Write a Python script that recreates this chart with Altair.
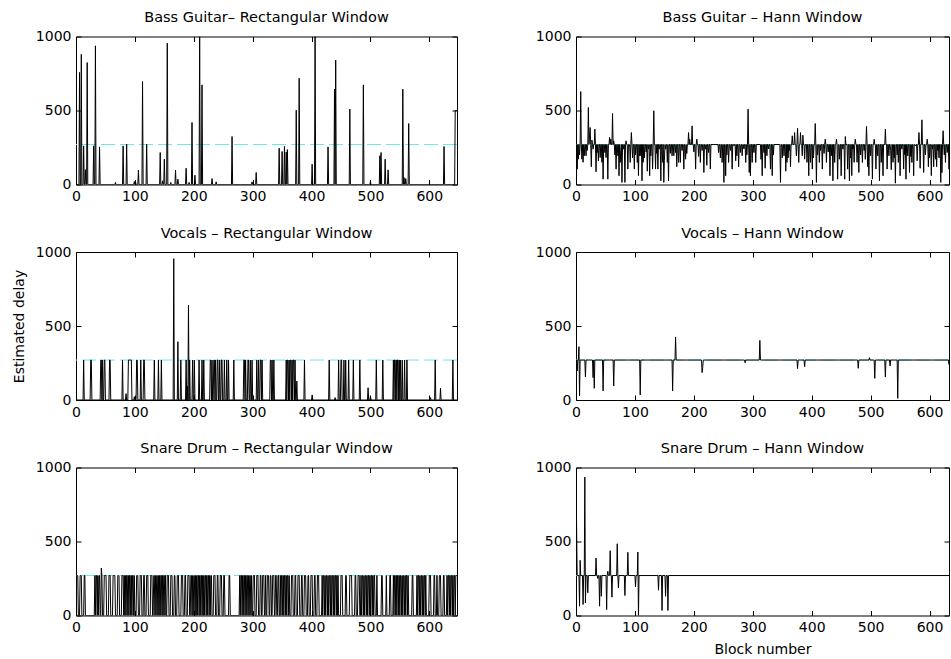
import altair as alt
import pandas as pd

# ---------------------------------------------------------------- data
N_BLOCKS = 647          # last block index of every recording
RIGHT_SHOWN = 633       # blocks shown in the right-hand column
BASE_DELAY = 270        # true delay (dashed reference)
X_TICKS = [0, 100, 200, 300, 400, 500, 600]
Y_TICKS = [0, 500, 1000]

TITLES = [
    "Bass Guitar\u2013 Rectangular Window",
    "Bass Guitar \u2013 Hann Window",
    "Vocals \u2013 Rectangular Window",
    "Vocals \u2013 Hann Window",
    "Snare Drum \u2013 Rectangular Window",
    "Snare Drum \u2013 Hann Window",
]

# bass guitar, rectangular window: estimates that leave the zero floor
BASS_RECT = [
    (6, 757), (9, 880), (13, 261), (16, 100), (19, 824), (30, 261), (33, 937),
    (40, 254), (67, 14), (80, 261), (86, 272), (99, 20), (101, 20), (106, 97),
    (113, 696), (120, 272), (143, 216), (147, 25), (150, 171), (155, 955),
    (161, 14), (169, 97), (173, 36), (187, 110), (192, 14), (197, 419),
    (202, 63), (210, 1000), (214, 673), (231, 40), (238, 18), (265, 324),
    (299, 18), (306, 81), (345, 245), (350, 223), (354, 257), (357, 220),
    (359, 236), (374, 502), (379, 718), (401, 137), (406, 1000), (428, 254),
    (439, 644), (441, 840), (465, 509), (488, 673), (500, 18), (516, 194),
    (518, 216), (525, 171), (530, 99), (555, 644), (557, 47), (560, 40),
    (565, 412), (625, 257), (644, 500), (645, 500), (646, 500), (647, 500),
]

# bass guitar, Hann window: departures from the true delay
BASS_HANN = [
    (0, 230), (2, 104), (4, 171), (6, 200), (8, 628), (10, 171), (12, 150),
    (14, 194), (17, 194), (19, 230), (21, 520), (23, 333), (24, 385),
    (26, 120), (27, 300), (29, 239), (32, 374), (34, 86), (36, 216),
    (38, 160), (41, 182), (44, 150), (46, 36), (49, 216), (51, 182), (54, 36),
    (57, 318), (59, 306), (62, 480), (64, 295), (66, 200), (68, 104),
    (71, 194), (73, 59), (75, 149), (76, 230), (78, 14), (81, 239), (83, 14),
    (85, 295), (88, 104), (90, 261), (92, 149), (94, 351), (96, 180),
    (99, 104), (101, 200), (104, 149), (106, 60), (108, 194), (110, 194),
    (112, 25), (114, 150), (116, 180), (119, 220), (121, 90), (123, 240),
    (125, 59), (127, 194), (130, 104), (132, 498), (135, 104), (137, 210),
    (139, 104), (142, 239), (144, 25), (147, 150), (149, 14), (150, 160),
    (152, 239), (155, 149), (157, 25), (160, 210), (163, 194), (166, 194),
    (169, 216), (171, 120), (174, 149), (177, 149), (180, 230), (183, 104),
    (186, 171), (188, 210), (191, 351), (193, 306), (197, 396), (200, 220),
    (203, 104), (205, 306), (208, 190), (211, 149), (214, 230), (217, 81),
    (220, 239), (222, 130), (225, 216), (228, 104), (242, 216), (245, 180),
    (248, 149), (251, 14), (254, 59), (256, 200), (259, 149), (262, 230),
    (265, 104), (268, 261), (271, 160), (273, 194), (276, 120), (279, 216),
    (282, 194), (285, 240), (288, 149), (290, 200), (292, 509), (294, 81),
    (296, 59), (299, 149), (302, 216), (305, 149), (314, 170), (316, 59),
    (319, 216), (321, 110), (324, 194), (327, 240), (330, 104), (333, 60),
    (335, 200), (347, 14), (350, 180), (353, 194), (356, 90), (358, 149),
    (360, 180), (362, 230), (364, 120), (367, 329), (371, 351), (374, 194),
    (376, 380), (378, 149), (381, 351), (384, 194), (385, 333), (388, 171),
    (392, 149), (395, 59), (398, 149), (401, 104), (403, 180), (406, 412),
    (408, 14), (410, 200), (413, 149), (415, 230), (418, 104), (421, 210),
    (423, 306), (425, 149), (428, 220), (431, 59), (434, 194), (436, 25),
    (439, 149), (442, 306), (444, 36), (447, 171), (450, 59), (453, 239),
    (456, 36), (457, 324), (461, 104), (464, 25), (466, 180), (468, 60),
    (470, 240), (472, 150), (474, 306), (477, 150), (480, 81), (483, 200),
    (486, 149), (489, 230), (491, 170), (493, 392), (495, 120), (497, 59),
    (500, 194), (503, 36), (506, 306), (509, 104), (512, 194), (515, 25),
    (518, 149), (521, 59), (525, 374), (528, 104), (531, 194), (534, 230),
    (535, 100), (538, 150), (540, 180), (542, 9), (545, 200), (547, 149),
    (550, 59), (553, 239), (556, 104), (558, 200), (560, 36), (563, 194),
    (566, 81), (568, 190), (570, 149), (573, 59), (576, 261), (579, 160),
    (582, 351), (584, 110), (587, 437), (590, 81), (593, 200), (596, 306),
    (598, 120), (600, 180), (603, 60), (605, 239), (607, 120), (610, 171),
    (612, 120), (614, 230), (616, 180), (619, 14), (621, 80), (623, 363),
    (625, 200), (627, 149), (630, 216), (633, 104), (636, 200),
]

# vocals, rectangular window: blocks estimated at the true delay, and outliers
VOC_RECT_ON = [
    (13, 13), (25, 26), (42, 43), (45, 45), (48, 49), (57, 58), (79, 79),
    (89, 94), (103, 104), (110, 110), (115, 116), (133, 133), (140, 140),
    (145, 145), (178, 178), (187, 187), (193, 193), (198, 198), (201, 201),
    (209, 209), (214, 214), (217, 217), (228, 229), (231, 231), (234, 235),
    (237, 237), (240, 241), (244, 244), (247, 248), (252, 252), (256, 256),
    (259, 259), (268, 268), (285, 286), (288, 288), (292, 293), (296, 296),
    (299, 299), (307, 307), (310, 310), (313, 314), (316, 316), (330, 331),
    (333, 333), (336, 336), (357, 357), (359, 360), (362, 362), (364, 365),
    (367, 367), (369, 370), (372, 372), (388, 388), (430, 430), (446, 446),
    (450, 451), (455, 455), (458, 458), (463, 463), (471, 471), (482, 482),
    (510, 510), (521, 521), (539, 539), (541, 542), (544, 544), (546, 547),
    (549, 549), (551, 551), (554, 554), (558, 558), (562, 562), (610, 610),
    (640, 640),
]
VOC_RECT_PEAKS = [
    (0, 128), (85, 43), (99, 22), (166, 955), (173, 394), (189, 95),
    (191, 640), (375, 128), (401, 34), (440, 16), (496, 83), (500, 27),
    (602, 16), (619, 79),
]

# vocals, Hann window
VOC_HANN = [
    (0, 241), (2, 196), (5, 360), (6, 27), (16, 155), (29, 151), (31, 79),
    (46, 61), (64, 95), (109, 34), (164, 61), (169, 426), (214, 185),
    (215, 218), (287, 252), (312, 403), (376, 212), (388, 225), (479, 214),
    (498, 286), (507, 146), (525, 155), (533, 230), (546, 11), (633, 241),
]

# snare drum, rectangular window: blocks estimated at the true delay
SNARE_RECT_ON = [
    (0, 3), (7, 9), (14, 15),
    (32, 32), (34, 35), (37, 37), (39, 40), (43, 44),
    (48, 51), (56, 58), (63, 66), (71, 73), (78, 80),
    (82, 82), (84, 84), (86, 87), (89, 89), (91, 92), (94, 94), (96, 97),
    (99, 99),
    (103, 105), (109, 111), (115, 116), (120, 122), (127, 129), (132, 133),
    (135, 135), (137, 138), (140, 140), (142, 142), (144, 145), (147, 147),
    (149, 150), (152, 152),
    (155, 157), (161, 163), (167, 168), (172, 174), (179, 181), (185, 186),
    (190, 192), (195, 196),
    (198, 198), (200, 201), (203, 203), (205, 205), (207, 208), (210, 210),
    (212, 213), (215, 215), (217, 217), (219, 220), (222, 222), (224, 225),
    (227, 227), (229, 230),
    (234, 236), (240, 241), (245, 247), (251, 252), (260, 261),
    (278, 278), (280, 281), (283, 283), (285, 286), (288, 288), (290, 291),
    (293, 293), (295, 296), (298, 298),
    (301, 303), (307, 309),
    (313, 314), (317, 319), (322, 322), (325, 327), (330, 331), (334, 336),
    (339, 340), (343, 344),
    (347, 347), (349, 350), (352, 352), (354, 355), (357, 357), (359, 360),
    (362, 362),
    (366, 368), (372, 373), (377, 379), (383, 384), (388, 390), (394, 395),
    (399, 401), (405, 406), (410, 412),
    (418, 418), (420, 421), (423, 423), (425, 426), (428, 428), (430, 431),
    (433, 433), (435, 436), (438, 438), (440, 441), (443, 443), (445, 445),
    (450, 452), (458, 459), (465, 468), (474, 475), (479, 481),
    (484, 484), (486, 487), (489, 489), (491, 492), (494, 494), (496, 497),
    (499, 499), (501, 502), (504, 504), (506, 507),
    (511, 511), (519, 520), (527, 527), (533, 534),
    (539, 539), (541, 542), (544, 544), (546, 547), (549, 549), (551, 552),
    (554, 554), (556, 557), (559, 559), (561, 562), (564, 564),
    (571, 572),
    (579, 579), (581, 582), (584, 584), (586, 587), (589, 589), (591, 592),
    (594, 594),
    (600, 602), (608, 609), (613, 613), (617, 619), (624, 625),
    (630, 630), (632, 633), (635, 635), (637, 638), (640, 640), (642, 643),
    (645, 647),
]
SNARE_RECT_PEAKS = [(43, 321)]

# snare drum, Hann window
SNARE_HANN = [
    (0, 975), (1, 600), (2, 270), (6, 63), (7, 373), (12, 74), (15, 935),
    (16, 85), (20, 153), (34, 389), (37, 250), (40, 63), (41, 262), (43, 130),
    (52, 40), (54, 299), (58, 438), (61, 124), (70, 485), (72, 187),
    (83, 135), (88, 427), (101, 193), (105, 429), (106, 0), (140, 171),
    (146, 34), (152, 130), (156, 34),
]


def build(events, base):
    """Vertices of the per-block estimate: listed blocks, with the floor
    value on the blocks just before and after each excursion."""
    pts = dict(events)
    for b, _ in events:
        for nb in (b - 1, b + 1):
            if 0 <= nb <= N_BLOCKS and nb not in pts:
                pts[nb] = base
    for end in (0, N_BLOCKS):
        pts.setdefault(end, base)
    blocks = sorted(pts)
    return pd.DataFrame({"block": blocks, "delay": [pts[b] for b in blocks]})


def on_blocks(intervals, peaks):
    ev = {b: BASE_DELAY for s, e in intervals for b in range(s, e + 1)}
    ev.update(dict(peaks))
    return sorted(ev.items())


SERIES = [
    build(BASS_RECT, 0),
    build(BASS_HANN, BASE_DELAY),
    build(on_blocks(VOC_RECT_ON, VOC_RECT_PEAKS), 0),
    build(VOC_HANN, BASE_DELAY),
    build(on_blocks(SNARE_RECT_ON, SNARE_RECT_PEAKS), 0),
    build(SNARE_HANN, BASE_DELAY),
]

# ---------------------------------------------------------------- style
FONT = "DejaVu Sans"
CYAN = "#6fe6e6"
TICK = 5
LEFT_W = 381
RIGHT_W = 373
PANEL_H = 148


def axis(orient, values, labels=True, title=None, pad=5, title_pad=5):
    return alt.Axis(
        orient=orient, values=values, offset=-TICK, tickSize=TICK,
        domain=False, grid=False, labels=labels, labelFlush=False,
        labelOverlap=False, format="d", labelPadding=pad, title=title,
        titlePadding=title_pad,
    )


def panel(df, title, right, xtitle=None, ytitle=None):
    xmax = RIGHT_SHOWN if right else N_BLOCKS
    width = RIGHT_W if right else LEFT_W
    xs = alt.Scale(domain=[0, xmax], nice=False, zero=False)
    ys = alt.Scale(domain=[0, 1000], nice=False)

    ref = alt.Chart(pd.DataFrame({"delay": [BASE_DELAY]})).mark_rule(
        color=CYAN, strokeDash=[14, 5], strokeWidth=1
    ).encode(y=alt.Y("delay:Q", scale=ys, axis=None))

    line = alt.Chart(df).mark_line(
        color="black", strokeWidth=1, clip=True
    ).encode(
        x=alt.X("block:Q", scale=xs,
                axis=axis("bottom", X_TICKS, title=xtitle, pad=5, title_pad=8)),
        y=alt.Y("delay:Q", scale=ys,
                axis=axis("left", Y_TICKS, title=ytitle, pad=5, title_pad=9)),
    )

    # inward ticks on the top and right edges of the box
    inside = df[df["block"] <= xmax]
    box = alt.Chart(inside).mark_point(opacity=0, size=0, clip=True).encode(
        x=alt.X("block:Q", scale=xs, axis=axis("top", X_TICKS, labels=False)),
        y=alt.Y("delay:Q", scale=ys, axis=axis("right", Y_TICKS, labels=False)),
    )

    return alt.layer(
        ref, line, box,
        title=alt.TitleParams(title, fontSize=14.5, fontWeight="normal",
                              font=FONT, color="black", offset=4),
    ).resolve_axis(x="independent", y="independent").properties(
        width=width, height=PANEL_H
    )


panels = [
    panel(SERIES[0], TITLES[0], False),
    panel(SERIES[1], TITLES[1], True),
    panel(SERIES[2], TITLES[2], False, ytitle="Estimated delay"),
    panel(SERIES[3], TITLES[3], True),
    panel(SERIES[4], TITLES[4], False),
    panel(SERIES[5], TITLES[5], True, xtitle="Block number"),
]

chart = alt.concat(
    *panels, columns=2, spacing={"row": 20.5, "column": 76}
).properties(
    padding={"left": 11, "top": 9.5, "right": 0, "bottom": 0}
).configure_view(
    stroke="black", strokeWidth=1
).configure_axis(
    labelFont=FONT, labelFontSize=14, labelColor="black",
    titleFont=FONT, titleFontSize=14, titleFontWeight="normal",
    titleColor="black", tickColor="black", tickWidth=1,
)

chart.save("out.html", embed_options={"renderer": "svg", "actions": False})
